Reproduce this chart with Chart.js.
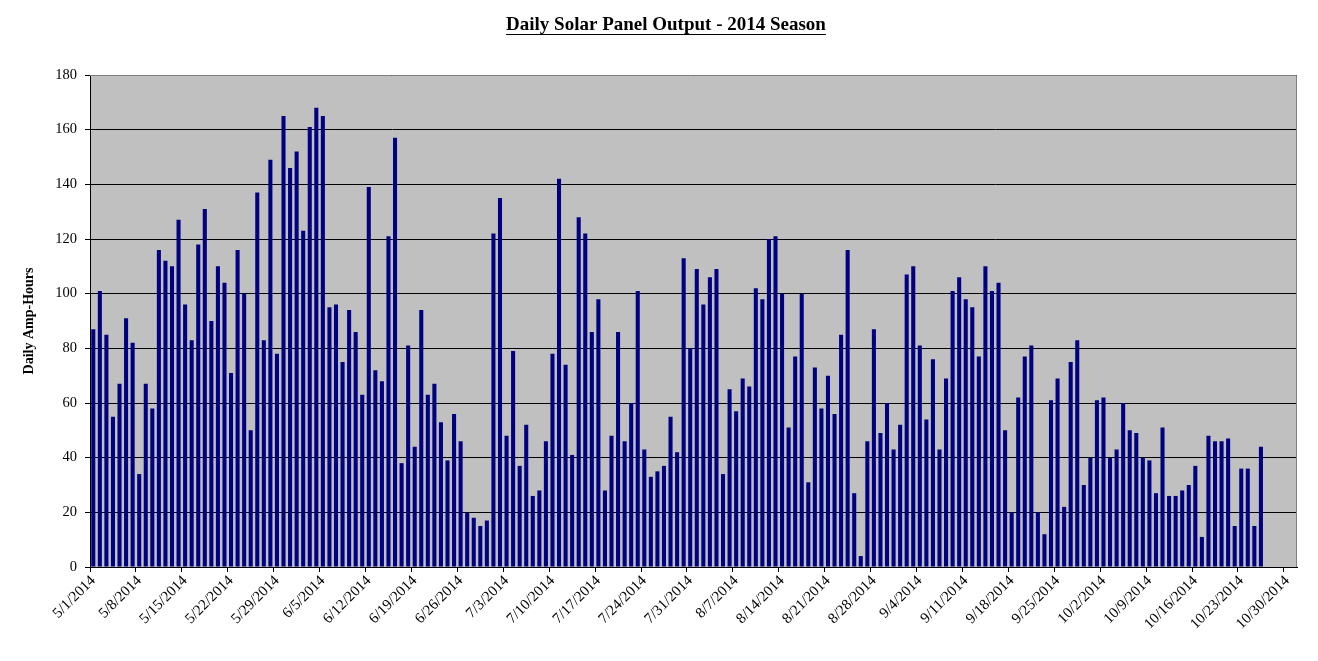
<!DOCTYPE html>
<html>
<head>
<meta charset="utf-8">
<title>Daily Solar Panel Output - 2014 Season</title>
<script src="https://cdn.jsdelivr.net/npm/chart.js@4.4.1/dist/chart.umd.min.js"></script>
<style>
  html, body { margin: 0; padding: 0; background: #fff; }
  #wrap { width: 1318px; height: 661px; }
</style>
</head>
<body>
<div id="wrap"><canvas id="solar"></canvas></div>
<script>

// Data - one reading per day, starting 5/1/2014 (last days of October have no reading)

var startYear = 2014, startMonth = 4, startDay = 1;
var dayCount = 184;

var ampHours = [
  87, 101, 85, 55, 67, 91, 82, 34, 67, 58, 116, 112, 110, 127, 96, 83,
  118, 131, 90, 110, 104, 71, 116, 100, 50, 137, 83, 149, 78, 165, 146,
  152, 123, 161, 168, 165, 95, 96, 75, 94, 86, 63, 139, 72, 68, 121, 157,
  38, 81, 44, 94, 63, 67, 53, 39, 56, 46, 20, 18, 15, 17, 122,
  135, 48, 79, 37, 52, 26, 28, 46, 78, 142, 74, 41, 128, 122, 86,
  98, 28, 48, 86, 46, 60, 101, 43, 33, 35, 37, 55, 42, 113, 80,
  109, 96, 106, 109, 34, 65, 57, 69, 66, 102, 98, 120, 121, 100, 51,
  77, 100, 31, 73, 58, 70, 56, 85, 116, 27, 4, 46, 87, 49, 60, 43,
  52, 107, 110, 81, 54, 76, 43, 69, 101, 106, 98, 95, 77, 110, 101,
  104, 50, 20, 62, 77, 81, 20, 12, 61, 69, 22, 75, 83, 30, 40,
  61, 62, 40, 43, 60, 50, 49, 40, 39, 27, 51, 26, 26, 28, 30,
  37, 11, 48, 46, 46, 47, 15, 36, 36, 15, 44,
  null, null, null, null, null
];

var yTicks = [0, 20, 40, 60, 80, 100, 120, 140, 160, 180];

// every 7th day gets a label
var labelEvery = 7;

var days = [];
for (var i = 0; i < dayCount; i++) {
  var d = new Date(startYear, startMonth, startDay + i);
  days.push((d.getMonth() + 1) + '/' + d.getDate() + '/' + d.getFullYear());
}


// Grey plot area, border and underlined title

const plotFrame = {
  id: 'plotFrame',
  beforeDraw(chart) {
    const ctx = chart.ctx;
    const a = chart.chartArea;
    ctx.save();
    ctx.fillStyle = '#c0c0c0';
    ctx.fillRect(a.left, a.top, a.right - a.left, a.bottom - a.top);
    ctx.restore();
  },
  afterDraw(chart) {
    const ctx = chart.ctx;
    const a = chart.chartArea;
    ctx.save();
    ctx.strokeStyle = '#808080';
    ctx.lineWidth = 1;
    ctx.beginPath();
    ctx.moveTo(a.left, a.top + 0.5);
    ctx.lineTo(a.right - 0.5, a.top + 0.5);
    ctx.lineTo(a.right - 0.5, a.bottom);
    ctx.stroke();

    // underline under the title
    const t = chart.titleBlock;
    const opts = chart.options.plugins.title;
    ctx.font = 'bold ' + opts.font.size + 'px ' + opts.font.family;
    const w = ctx.measureText(opts.text).width;
    const cx = (t.left + t.right) / 2;
    const mid = t.top + opts.padding.top + opts.font.size * 0.6;
    const y = Math.round(mid + opts.font.size * 0.45) + 0.5;
    ctx.strokeStyle = '#000';
    ctx.beginPath();
    ctx.moveTo(cx - w / 2, y);
    ctx.lineTo(cx + w / 2, y);
    ctx.stroke();
    ctx.restore();
  }
};


// Chart

const ctx = document.getElementById('solar');
const solarChart = new Chart(ctx, {
  type: 'bar',
  data: {
    labels: days,
    datasets: [{
      label: 'Daily Amp-Hours',
      data: ampHours,
      backgroundColor: '#000080',
      borderWidth: 0,
      categoryPercentage: 1,
      barPercentage: 0.62
    }]
  },
  options: {
    responsive: true,
    maintainAspectRatio: false,
    animation: false,
    layout: {
      // left padding keeps the title a bit right of centre, like the original
      padding: { left: 35, right: 21, top: 0, bottom: 0 }
    },
    scales: {
      x: {
        offset: true,
        afterFit: function (scale) { scale.height = 94; },
        grid: {
          offset: true,
          drawOnChartArea: false,
          drawTicks: true,
          tickLength: 5,
          tickColor: function (c) { return c.index % labelEvery === 0 ? '#000' : 'rgba(0,0,0,0)'; }
        },
        border: { color: '#000', width: 1 },
        ticks: {
          autoSkip: false,
          minRotation: 45,
          maxRotation: 45,
          padding: 0,
          color: '#000',
          font: { family: '"Liberation Serif", "Times New Roman", serif', size: 15 },
          callback: function (val, index) {
            return index % labelEvery === 0 ? days[index] : '';
          }
        }
      },
      y: {
        min: 0,
        max: 180,
        afterFit: function (scale) { scale.width = 55; },
        afterBuildTicks: function (scale) {
          scale.ticks = yTicks.map(function (v) { return { value: v }; });
        },
        grid: {
          color: '#000',
          lineWidth: 1,
          drawTicks: true,
          tickLength: 5,
          tickColor: '#000'
        },
        border: { color: '#000', width: 1 },
        ticks: {
          padding: 8,
          color: '#000',
          font: { family: '"Liberation Serif", "Times New Roman", serif', size: 14.5 }
        },
        title: {
          display: true,
          text: 'Daily Amp-Hours',
          color: '#000',
          padding: { top: -14, bottom: 0 },
          font: { family: '"Liberation Serif", "Times New Roman", serif', size: 14, weight: 'bold' }
        }
      }
    },
    plugins: {
      legend: { display: false },
      tooltip: { enabled: false },
      title: {
        display: true,
        text: 'Daily Solar Panel Output - 2014 Season',
        color: '#000',
        padding: { top: 14, bottom: 38.2 },
        font: { family: '"Liberation Serif", "Times New Roman", serif', size: 19, weight: 'bold' }
      }
    }
  },
  plugins: [plotFrame]
});
</script>
</body>
</html>
